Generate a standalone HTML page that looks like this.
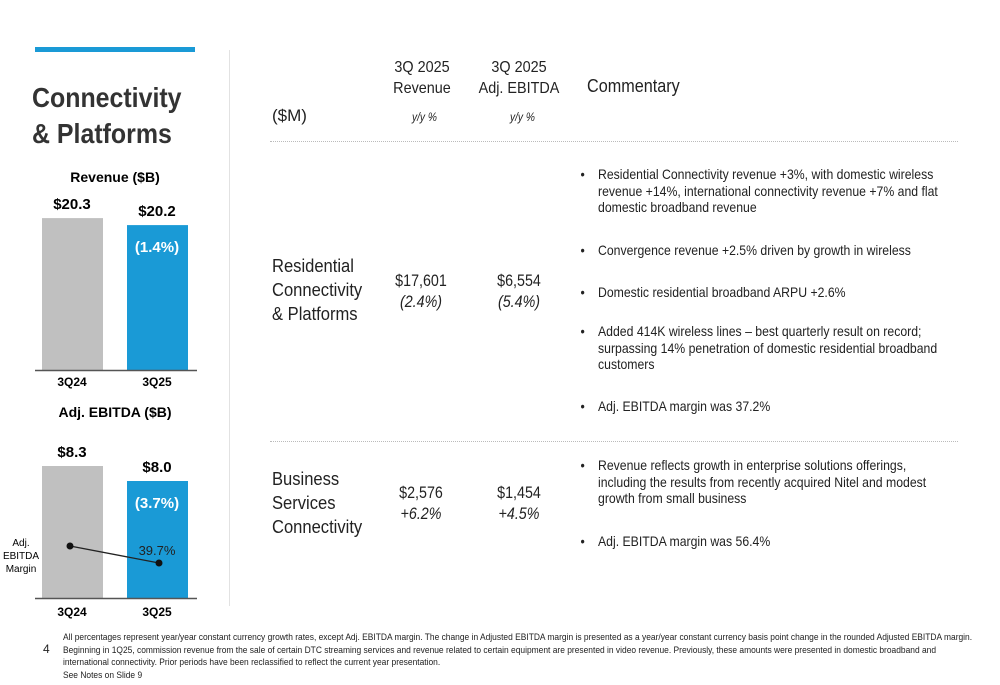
<!DOCTYPE html>
<html><head><meta charset="utf-8"><style>
body{margin:0;background:#fff;width:1000px;height:685px;overflow:hidden;position:relative;font-family:"Liberation Sans Narrow","Liberation Sans",sans-serif;color:#222}
.a{position:absolute;white-space:nowrap}
.h{font-size:16px;text-align:center;line-height:21px;transform:scaleX(0.9)}
.yy{font-size:12px;font-style:italic;transform:scaleX(0.85);transform-origin:left}
.row{font-size:18px;line-height:24px;transform:scaleX(0.92);transform-origin:left top}
.num{font-size:17px;text-align:center;line-height:21px;transform:scaleX(0.84)}
.b{font-size:14px;line-height:16.5px;white-space:normal;width:392px;transform:scaleX(0.875);transform-origin:left top}
.b:before{content:"•";position:absolute;left:-20px}
.rule{position:absolute;left:270px;width:688px;border-top:1px dotted #bbb}
</style></head><body>
<div class="a" style="left:35px;top:47px;width:160px;height:5px;background:#1a9ad6"></div>
<div class="a" style="left:32px;top:80px;font:bold 28px/36px 'Liberation Sans Narrow','Liberation Sans',sans-serif;color:#333;transform:scaleX(0.89);transform-origin:left top">Connectivity<br>&amp; Platforms</div>
<div class="a" style="left:229px;top:50px;width:1px;height:556px;background:#e2e2e2"></div>
<svg id="chart" width="230" height="620" style="position:absolute;left:0;top:0" font-family="Liberation Sans Narrow, Liberation Sans, sans-serif"></svg>

<div class="a h" style="left:372px;top:57px;width:100px">3Q 2025<br>Revenue</div>
<div class="a h" style="left:469px;top:57px;width:100px">3Q 2025<br>Adj. EBITDA</div>
<div class="a" style="left:587px;top:76px;font-size:18px;transform:scaleX(0.9);transform-origin:left">Commentary</div>
<div class="a" style="left:272px;top:106px;font-size:17px">($M)</div>
<div class="a yy" style="left:412px;top:110px">y/y %</div>
<div class="a yy" style="left:510px;top:110px">y/y %</div>
<div class="rule" style="top:141px"></div>
<div class="rule" style="top:441px"></div>

<div class="a row" style="left:272px;top:254px">Residential<br>Connectivity<br>&amp; Platforms</div>
<div class="a num" style="left:371px;top:270px;width:100px">$17,601<br><i>(2.4%)</i></div>
<div class="a num" style="left:469px;top:270px;width:100px">$6,554<br><i>(5.4%)</i></div>
<div class="a b" style="left:598px;top:166px">Residential Connectivity revenue +3%, with domestic wireless revenue +14%, international connectivity revenue +7% and flat domestic broadband revenue</div>
<div class="a b" style="left:598px;top:242px">Convergence revenue +2.5% driven by growth in wireless</div>
<div class="a b" style="left:598px;top:284px">Domestic residential broadband ARPU +2.6%</div>
<div class="a b" style="left:598px;top:323px">Added 414K wireless lines – best quarterly result on record; surpassing 14% penetration of domestic residential broadband customers</div>
<div class="a b" style="left:598px;top:398px">Adj. EBITDA margin was 37.2%</div>

<div class="a row" style="left:272px;top:467px">Business<br>Services<br>Connectivity</div>
<div class="a num" style="left:371px;top:482px;width:100px">$2,576<br><i>+6.2%</i></div>
<div class="a num" style="left:469px;top:482px;width:100px">$1,454<br><i>+4.5%</i></div>
<div class="a b" style="left:598px;top:457px">Revenue reflects growth in enterprise solutions offerings, including the results from recently acquired Nitel and modest growth from small business</div>
<div class="a b" style="left:598px;top:533px">Adj. EBITDA margin was 56.4%</div>

<div class="a" style="left:43px;top:642px;font-size:12px">4</div>
<div class="a" style="left:63px;top:631px;font-size:9.3px;line-height:12.5px;white-space:normal;width:1010px;transform:scaleX(0.906);transform-origin:left top">All percentages represent year/year constant currency growth rates, except Adj. EBITDA margin. The change in Adjusted EBITDA margin is presented as a year/year constant currency basis point change in the rounded Adjusted EBITDA margin. Beginning in 1Q25, commission revenue from the sale of certain DTC streaming services and revenue related to certain equipment are presented in video revenue. Previously, these amounts were presented in domestic broadband and international connectivity. Prior periods have been reclassified to reflect the current year presentation.<br>See Notes on Slide 9</div>

<script>
const periods=["3Q24","3Q25"];
const revenue=[20.3,20.2];
const revenueLabels=["$20.3","$20.2"];
const revenueChange="(1.4%)";
const ebitda=[8.3,8.0];
const ebitdaLabels=["$8.3","$8.0"];
const ebitdaChange="(3.7%)";
const margin=[40.5,39.7];
const marginLabel="39.7%";

const svg=document.getElementById('chart');
const NS="http://www.w3.org/2000/svg";
function mk(t,a,txt){const e=document.createElementNS(NS,t);for(const k in a)e.setAttribute(k,a[k]);if(txt!=null)e.textContent=txt;svg.appendChild(e);return e;}
const xC=i=>72+i*85;
const revY=v=>370-70*(v-18.13);
const ebY=v=>598-50*(v-5.66);
const mY=v=>546+(40.5-v)*21.25;
const colors=["#c0c0c0","#1a9ad6"];

let e=mk('text',{x:115,y:182,'text-anchor':'middle','font-size':14,'font-weight':'bold'},"Revenue ($B)");

periods.forEach((p,i)=>{
  const t=revY(revenue[i]);
  let r=mk('rect',{x:xC(i)-30,y:t,width:61,height:370-t,fill:colors[i]});
  
  let l=mk('text',{x:xC(i),y:t-9,'text-anchor':'middle','font-size':15,'font-weight':'bold'},revenueLabels[i]);
  
  let x=mk('text',{x:xC(i),y:386,'text-anchor':'middle','font-size':12,'font-weight':'bold'},p);
  
  const tb=ebY(ebitda[i]);
  let r2=mk('rect',{x:xC(i)-30,y:tb,width:61,height:598-tb,fill:colors[i]});
  
  let l2=mk('text',{x:xC(i),y:tb-9,'text-anchor':'middle','font-size':15,'font-weight':'bold'},ebitdaLabels[i]);
  
  let x2=mk('text',{x:xC(i),y:616,'text-anchor':'middle','font-size':12,'font-weight':'bold'},p);
  
});
let c1=mk('text',{x:xC(1),y:revY(revenue[1])+27,'text-anchor':'middle','font-size':15,'font-weight':'bold',fill:'#fff'},revenueChange);

let c2=mk('text',{x:xC(1),y:ebY(ebitda[1])+27,'text-anchor':'middle','font-size':15,'font-weight':'bold',fill:'#fff'},ebitdaChange);

let a1=mk('line',{x1:35,x2:197,y1:370.5,y2:370.5,stroke:'#555','stroke-width':1.5});

let a2=mk('line',{x1:35,x2:197,y1:598.5,y2:598.5,stroke:'#555','stroke-width':1.5});

let t2=mk('text',{x:115,y:417,'text-anchor':'middle','font-size':14,'font-weight':'bold'},"Adj. EBITDA ($B)");

let ln=mk('line',{x1:xC(0)-2,y1:mY(margin[0]),x2:xC(1)+2,y2:mY(margin[1]),stroke:'#222','stroke-width':1.3});

margin.forEach((m,i)=>{
  let d=mk('circle',{cx:i?xC(1)+2:xC(0)-2,cy:mY(m),r:3.5,fill:'#111'});
  
});
let ml=mk('text',{x:xC(1),y:mY(margin[1])-8,'text-anchor':'middle','font-size':13,fill:'#222'},marginLabel);

["Adj.","EBITDA","Margin"].forEach((s,i)=>{
  let q=mk('text',{x:21,y:546+i*13,'text-anchor':'middle','font-size':10},s);
  
});
</script>
</body></html>
